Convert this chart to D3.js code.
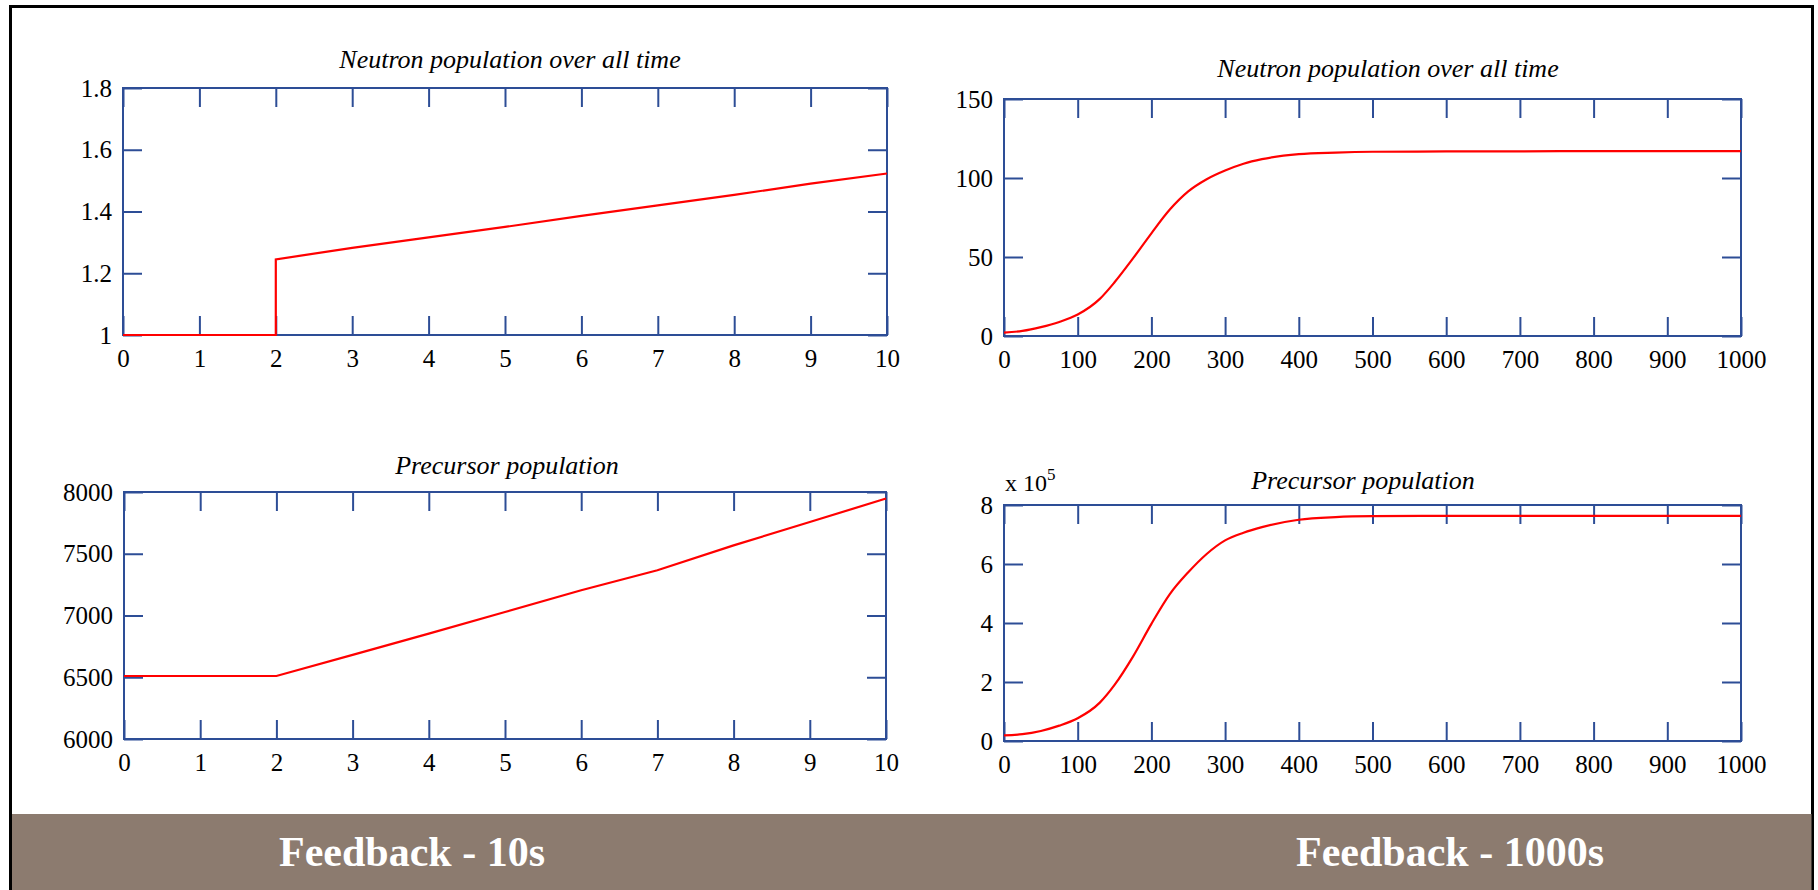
<!DOCTYPE html>
<html>
<head>
<meta charset="utf-8">
<script src="https://cdn.jsdelivr.net/npm/d3@7"></script>
<style>
  body { margin: 0; background: #fff; }
  svg { display: block; }
  svg text { font-family: "Liberation Serif", "Times New Roman", Times, serif; }
</style>
</head>
<body>
<div id="chart"></div>
<script>
// ---- data ----
// 10 s run, neutron population (step at t = 2)
const nTime10 = [0, 1, 2, 2, 3, 4, 5, 6, 7, 8, 9, 10];
const nPop10 = [1, 1, 1, 1.245, 1.282, 1.316, 1.35, 1.386, 1.42, 1.454, 1.49, 1.523];
// 10 s run, precursor population
const cTime10 = [0, 1, 2, 3, 4, 5, 6, 7, 8, 9, 10];
const cPop10 = [6510, 6510, 6510, 6681, 6853, 7028, 7204, 7366, 7568, 7757, 7947];
// 1000 s run
const time1000 = [0, 25, 50, 75, 100, 130, 150, 175, 200, 225, 250, 275, 300, 325, 350, 400, 450, 500, 600, 700, 800, 900, 1000];
const nPop1000 = [2.1, 3.2, 5.6, 8.9, 13.6, 23.5, 34.0, 49.1, 65, 80, 91.5, 99.2, 104.7, 109, 111.9, 115.1, 116.1, 116.6, 116.8, 116.9, 117, 117, 117];
// precursor, in units of 10^5
const cPop1000 = [0.19, 0.23, 0.34, 0.52, 0.77, 1.3, 1.9, 2.86, 3.97, 4.98, 5.72, 6.34, 6.8, 7.06, 7.25, 7.5, 7.59, 7.62, 7.63, 7.63, 7.63, 7.63, 7.63];

const ticks10 = d3.range(0, 11);
const ticks1000 = d3.range(0, 1001, 100);
const nTicks10 = [1, 1.2, 1.4, 1.6, 1.8];
const cTicks10 = [6000, 6500, 7000, 7500, 8000];
const nTicks1000 = [0, 50, 100, 150];
const cTicks1000 = [0, 2, 4, 6, 8];

const titles = ["Neutron population over all time", "Precursor population"];
const bandLabels = ["Feedback - 10s", "Feedback - 1000s"];

const W = 1818, H = 890;
const FONT = '"Liberation Serif", "Times New Roman", Times, serif';
const AXIS = "#2d4d96";
const TICK = 19;

const svg = d3.select("#chart").append("svg")
  .attr("width", W).attr("height", H);

// outer frame
svg.append("rect")
  .attr("x", 10.5).attr("y", 6.5)
  .attr("width", 1802).attr("height", 900)
  .attr("fill", "#fff")
  .attr("stroke", "#000")
  .attr("stroke-width", 3);

// bottom band
svg.append("rect")
  .attr("x", 12).attr("y", 814)
  .attr("width", 1799.5).attr("height", 80)
  .attr("fill", "#8c7b6f");

svg.append("text")
  .attr("x", 412).attr("y", 866)
  .attr("text-anchor", "middle")
  .attr("font-size", 42).attr("font-weight", "bold")
  .attr("fill", "#fff")
  .text(bandLabels[0]);

svg.append("text")
  .attr("x", 1450).attr("y", 866)
  .attr("text-anchor", "middle")
  .attr("font-size", 42).attr("font-weight", "bold")
  .attr("fill", "#fff")
  .text(bandLabels[1]);

function drawPanel(opt) {
  const { left, right, top, bottom } = opt.box;
  const x = d3.scaleLinear().domain(opt.xDomain).range([left, right]);
  const y = d3.scaleLinear().domain(opt.yDomain).range([bottom, top]);
  const g = svg.append("g");

  // inward ticks on all four sides
  const bottomAxis = d3.axisBottom(x).tickValues(opt.xTicks)
    .tickSize(-TICK).tickPadding(14).tickFormat(d3.format("d"));
  const topAxis = d3.axisTop(x).tickValues(opt.xTicks)
    .tickSize(-TICK).tickFormat("");
  const leftAxis = d3.axisLeft(y).tickValues(opt.yTicks)
    .tickSize(-TICK).tickPadding(11).tickFormat(opt.yFormat);
  const rightAxis = d3.axisRight(y).tickValues(opt.yTicks)
    .tickSize(-TICK).tickFormat("");

  [[bottomAxis, `translate(0,${bottom})`], [topAxis, `translate(0,${top})`],
   [leftAxis, `translate(${left},0)`], [rightAxis, `translate(${right},0)`]]
    .forEach(([ax, tr]) => {
      const a = g.append("g").attr("transform", tr).call(ax);
      a.attr("font-family", null).attr("font-size", null);
      a.select(".domain").remove();
      a.selectAll(".tick line").attr("stroke", AXIS).attr("stroke-width", 2);
      a.selectAll(".tick text")
        .attr("fill", "#000")
        .style("font-size", "25px")
        .style("font-family", FONT);
    });

  g.append("rect")
    .attr("x", left).attr("y", top)
    .attr("width", right - left).attr("height", bottom - top)
    .attr("fill", "none")
    .attr("stroke", AXIS).attr("stroke-width", 2);

  const line = d3.line()
    .x(d => x(d[0])).y(d => y(d[1]))
    .curve(opt.curve || d3.curveLinear);

  g.append("path")
    .datum(d3.zip(opt.xs, opt.ys))
    .attr("d", line)
    .attr("fill", "none")
    .attr("stroke", "#ff0000")
    .attr("stroke-width", 2.2);

  g.append("text")
    .attr("x", opt.titleX).attr("y", top - opt.titleGap)
    .attr("text-anchor", "middle")
    .attr("font-size", 26).attr("font-style", "italic")
    .text(opt.title);

  return g;
}

drawPanel({
  box: { left: 123, right: 887, top: 88, bottom: 335 },
  xDomain: [0, 10], yDomain: [1, 1.8],
  xTicks: ticks10, yTicks: nTicks10,
  yFormat: d => d === 1 ? "1" : d3.format(".1f")(d),
  xs: nTime10, ys: nPop10,
  title: titles[0], titleX: 510, titleGap: 20
});

drawPanel({
  box: { left: 1004, right: 1741, top: 99, bottom: 336 },
  xDomain: [0, 1000], yDomain: [0, 150],
  xTicks: ticks1000, yTicks: nTicks1000,
  yFormat: d3.format("d"),
  xs: time1000, ys: nPop1000, curve: d3.curveMonotoneX,
  title: titles[0], titleX: 1388, titleGap: 22
});

drawPanel({
  box: { left: 124, right: 886, top: 492, bottom: 739 },
  xDomain: [0, 10], yDomain: [6000, 8000],
  xTicks: ticks10, yTicks: cTicks10,
  yFormat: d3.format("d"),
  xs: cTime10, ys: cPop10,
  title: titles[1], titleX: 507, titleGap: 18
});

const p4 = drawPanel({
  box: { left: 1004, right: 1741, top: 505, bottom: 741 },
  xDomain: [0, 1000], yDomain: [0, 8],
  xTicks: ticks1000, yTicks: cTicks1000,
  yFormat: d3.format("d"),
  xs: time1000, ys: cPop1000, curve: d3.curveMonotoneX,
  title: titles[1], titleX: 1363, titleGap: 16
});

// exponent label
const expo = p4.append("text")
  .attr("x", 1005).attr("y", 491)
  .attr("font-size", 24);
expo.append("tspan").text("x 10");
expo.append("tspan").attr("dy", -11).attr("font-size", 17).text("5");
</script>
</body>
</html>
